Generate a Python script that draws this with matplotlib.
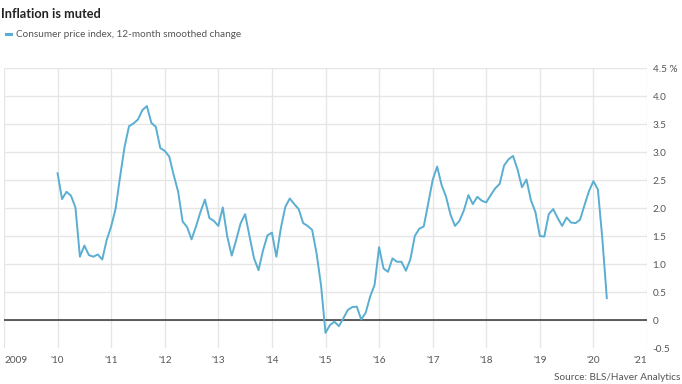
import numpy as np
import pandas as pd
from matplotlib import pyplot as plt

plt.rcParams['font.family'] = ['Lato', 'DejaVu Sans']

# Monthly CPI, 12-month smoothed change (%), Jan 2010 - Apr 2020
cpi = [
    2.62, 2.16, 2.29, 2.22, 2.01, 1.13, 1.33, 1.16, 1.13, 1.17, 1.08, 1.43,   # 2010
    1.67, 1.99, 2.56, 3.09, 3.46, 3.51, 3.58, 3.75, 3.82, 3.52, 3.45, 3.07,   # 2011
    3.02, 2.92, 2.59, 2.29, 1.76, 1.66, 1.44, 1.67, 1.93, 2.15, 1.82, 1.77,   # 2012
    1.68, 2.01, 1.49, 1.15, 1.43, 1.73, 1.89, 1.49, 1.10, 0.89, 1.24, 1.51,   # 2013
    1.56, 1.13, 1.64, 2.02, 2.17, 2.07, 1.98, 1.73, 1.68, 1.61, 1.19, 0.62,   # 2014
    -0.23, -0.09, -0.03, -0.11, 0.03, 0.18, 0.23, 0.24, 0.01, 0.13, 0.42, 0.63,  # 2015
    1.30, 0.92, 0.86, 1.10, 1.04, 1.04, 0.88, 1.08, 1.50, 1.63, 1.67, 2.08,   # 2016
    2.50, 2.74, 2.41, 2.20, 1.88, 1.68, 1.77, 1.96, 2.23, 2.07, 2.20, 2.13,   # 2017
    2.10, 2.23, 2.35, 2.43, 2.76, 2.87, 2.93, 2.69, 2.37, 2.51, 2.14, 1.93,   # 2018
    1.50, 1.49, 1.89, 1.98, 1.82, 1.68, 1.83, 1.74, 1.73, 1.79, 2.05, 2.30,   # 2019
    2.48, 2.33, 1.45, 0.39,                                                   # 2020
]
dates = pd.date_range('2010-01-01', periods=len(cpi), freq='MS')
years = dates.year + (dates.month - 1) / 12.0

x_ticks = list(range(2009, 2022))
x_labels = ['2009'] + ["'%02d" % (y % 100) for y in x_ticks[1:]]
y_ticks = [-0.5, 0, 0.5, 1.0, 1.5, 2.0, 2.5, 3.0, 3.5, 4.0, 4.5]
y_labels = ['-0.5', '0', '0.5', '1.0', '1.5', '2.0', '2.5', '3.0', '3.5', '4.0', '4.5 %']

LINE_COLOR = '#5aaed1'
GRID_COLOR = '#e6e6e6'
TEXT_COLOR = '#555555'

fig = plt.figure(figsize=(6.82, 3.84), dpi=100)
ax = fig.add_axes([4 / 682, 1 - 348 / 384, 643 / 682, 280 / 384])

ax.plot(years, cpi, color=LINE_COLOR, linewidth=1.4, solid_joinstyle='round',
        label='Consumer price index, 12-month smoothed change', zorder=3)
ax.axhline(0, color='#333333', linewidth=1.1, zorder=2)

ax.set_xlim(2009, 2021)
ax.set_ylim(-0.5, 4.5)
ax.set_xticks(x_ticks)
ax.set_xticklabels(x_labels)
ax.set_yticks(y_ticks)
ax.set_yticklabels(y_labels)
ax.yaxis.tick_right()

ax.grid(True, color=GRID_COLOR, linewidth=1.0, zorder=0)
ax.yaxis.get_gridlines()[0].set_visible(False)
for s in ax.spines.values():
    s.set_visible(False)
ax.tick_params(axis='both', length=0, labelsize=7.2, labelcolor=TEXT_COLOR)
ax.tick_params(axis='x', pad=6)
ax.tick_params(axis='y', pad=4)
xl = ax.get_xticklabels()
xl[0].set_horizontalalignment('left')
xl[0].set_x(2008.925)
xl[-1].set_horizontalalignment('right')

fig.text(0.002, 0.963, 'Inflation is muted', fontsize=9.2, fontweight='bold',
         color='#222222', va='center', ha='left')
fig.legend(loc='center left', bbox_to_anchor=(6 / 682, 0.91), frameon=False,
           handlelength=0.5, handletextpad=0.5, fontsize=7.2,
           labelcolor=TEXT_COLOR, borderaxespad=0, borderpad=0)
leg = fig.legends[0]
for h in leg.legend_handles:
    h.set_linewidth(2.2)
fig.text(0.997, 0.016, 'Source: BLS/Haver Analytics', fontsize=7.2,
         color=TEXT_COLOR, ha='right', va='center')

fig.savefig('out.png', dpi=100)
plt.close(fig)
